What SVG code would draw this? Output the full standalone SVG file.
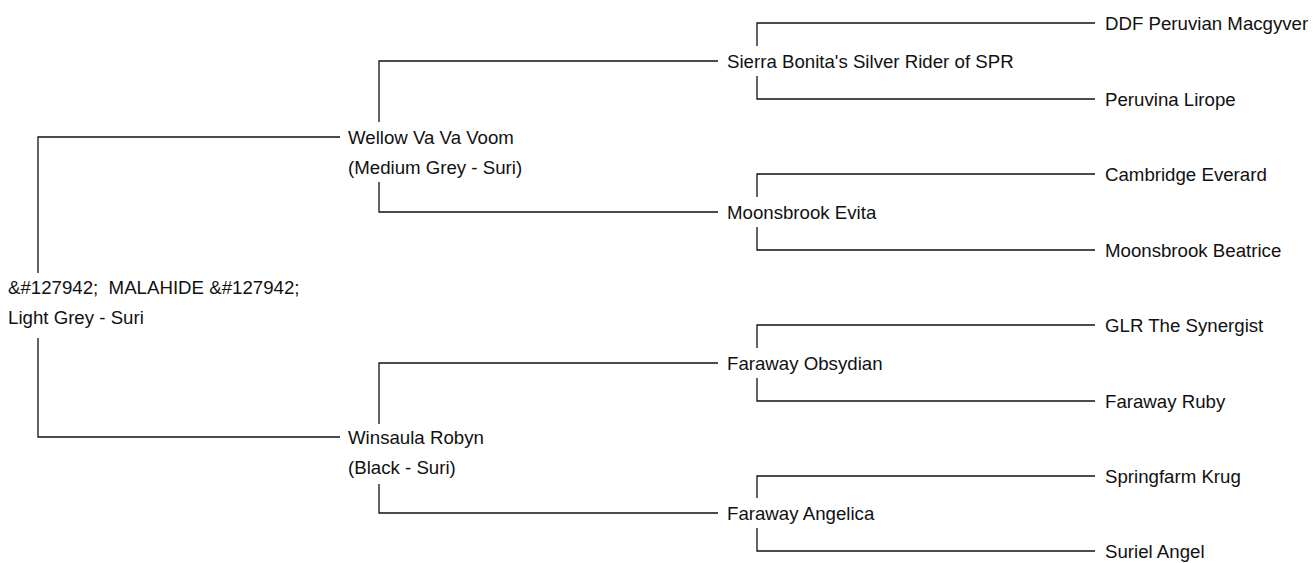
<svg xmlns="http://www.w3.org/2000/svg" width="1313" height="563" viewBox="0 0 1313 563">
<style>
  .bg { fill: #ffffff; }
  .c { fill: none; stroke: #111; stroke-width: 1.3; }
  text { font-family: "Liberation Sans", Arial, sans-serif; font-size: 18.67px; fill: #111; white-space: pre; }
</style>
<rect class="bg" x="0" y="0" width="1313" height="563"/>
<g id="connectors">
  <path class="c" d="M38 273 V137 H340"/>
  <path class="c" d="M38 338 V437 H340"/>
  <path class="c" d="M379 122 V61 H718"/>
  <path class="c" d="M379 182 V212 H718"/>
  <path class="c" d="M379 424 V363 H718"/>
  <path class="c" d="M379 484 V513 H718"/>
  <path class="c" d="M757 46 V23 H1095"/>
  <path class="c" d="M757 76 V99 H1095"/>
  <path class="c" d="M757 197 V174 H1095"/>
  <path class="c" d="M757 227 V250 H1095"/>
  <path class="c" d="M757 348 V325 H1095"/>
  <path class="c" d="M757 378 V401 H1095"/>
  <path class="c" d="M757 498 V476 H1095"/>
  <path class="c" d="M757 528 V551 H1095"/>
</g>
<g id="root">
  <text x="8" y="294">&amp;#127942;  MALAHIDE &amp;#127942;</text>
  <text x="8" y="324">Light Grey - Suri</text>
</g>
<g id="wellow">
  <text x="348" y="144">Wellow Va Va Voom</text>
  <text x="348" y="174">(Medium Grey - Suri)</text>
</g>
<g id="winsaula">
  <text x="348" y="444">Winsaula Robyn</text>
  <text x="348" y="474">(Black - Suri)</text>
</g>
<g id="sierra"><text x="727" y="68">Sierra Bonita's Silver Rider of SPR</text></g>
<g id="moonsbrook-evita"><text x="727" y="219">Moonsbrook Evita</text></g>
<g id="faraway-obsydian"><text x="727" y="370">Faraway Obsydian</text></g>
<g id="faraway-angelica"><text x="727" y="520">Faraway Angelica</text></g>
<g id="ddf"><text x="1105" y="30">DDF Peruvian Macgyver</text></g>
<g id="peruvina"><text x="1105" y="106">Peruvina Lirope</text></g>
<g id="cambridge"><text x="1105" y="181">Cambridge Everard</text></g>
<g id="moonsbrook-beatrice"><text x="1105" y="257">Moonsbrook Beatrice</text></g>
<g id="glr"><text x="1105" y="332">GLR The Synergist</text></g>
<g id="faraway-ruby"><text x="1105" y="408">Faraway Ruby</text></g>
<g id="springfarm"><text x="1105" y="483">Springfarm Krug</text></g>
<g id="suriel"><text x="1105" y="558">Suriel Angel</text></g>
</svg>
